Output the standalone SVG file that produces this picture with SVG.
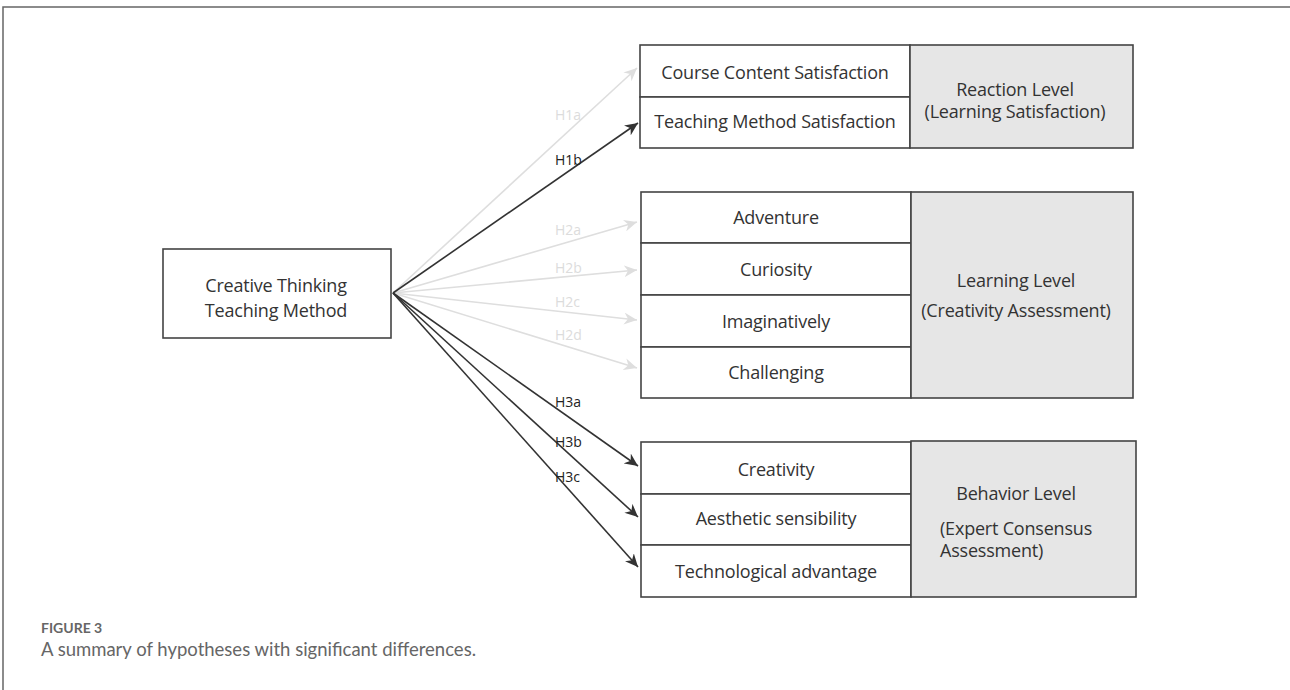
<svg xmlns="http://www.w3.org/2000/svg" width="1290" height="690" viewBox="0 0 1290 690">
<defs>
<style>
.box{fill:#fff;stroke:#444;stroke-width:1.6}
.lvl{fill:#e6e6e6;stroke:#444;stroke-width:1.6}
.t{font-family:"Open Sans","Noto Sans",sans-serif;font-size:18px;fill:#333;text-anchor:middle;letter-spacing:-0.2px}
.tl{font-family:"Open Sans","Noto Sans",sans-serif;font-size:18px;fill:#333;letter-spacing:-0.2px}
.dark{stroke:#333;stroke-width:1.6;fill:none}
.light{stroke:#dedede;stroke-width:1.6;fill:none}
.ld{font-family:"Open Sans","Noto Sans",sans-serif;font-size:14px;fill:#222}
.ll{font-family:"Open Sans","Noto Sans",sans-serif;font-size:14px;fill:#dcdcdc}
.cap1{font-family:"Lato","Open Sans",sans-serif;font-size:14px;fill:#666;font-weight:bold}
.cap2{font-family:"Lato","Open Sans",sans-serif;font-size:18.5px;fill:#666}
</style>
<marker id="ad" markerUnits="userSpaceOnUse" markerWidth="14" markerHeight="12" viewBox="0 0 14 12" refX="13" refY="6" orient="auto"><path d="M0,0 L13,6 L0,12 L4,6 z" fill="#333"/></marker>
<marker id="al" markerUnits="userSpaceOnUse" markerWidth="14" markerHeight="12" viewBox="0 0 14 12" refX="13" refY="6" orient="auto"><path d="M0,0 L13,6 L0,12 L4,6 z" fill="#dedede"/></marker>
</defs>
<g id="frame"><path d="M3,690 L3,7 L1290,7" fill="none" stroke="#666" stroke-width="1.5"/></g>

<g id="source">
<rect class="box" x="163" y="249" width="228" height="89"/>
<text class="t" x="276" y="292">Creative Thinking</text>
<text class="t" x="276" y="317">Teaching Method</text>
</g>

<g id="reaction">
<rect class="box" x="640" y="45" width="270" height="52"/>
<rect class="box" x="640" y="97" width="270" height="51"/>
<rect class="lvl" x="910" y="45" width="223" height="103"/>
<text class="t" x="775" y="79">Course Content Satisfaction</text>
<text class="t" x="775" y="128">Teaching Method Satisfaction</text>
<text class="t" x="1015" y="96">Reaction Level</text>
<text class="t" x="1015" y="118">(Learning Satisfaction)</text>
</g>

<g id="learning">
<rect class="box" x="641" y="192" width="270" height="51"/>
<rect class="box" x="641" y="243" width="270" height="52"/>
<rect class="box" x="641" y="295" width="270" height="52"/>
<rect class="box" x="641" y="347" width="270" height="51"/>
<rect class="lvl" x="911" y="192" width="222" height="206"/>
<text class="t" x="776" y="224">Adventure</text>
<text class="t" x="776" y="276">Curiosity</text>
<text class="t" x="776" y="328">Imaginatively</text>
<text class="t" x="776" y="379">Challenging</text>
<text class="t" x="1016" y="287">Learning Level</text>
<text class="t" x="1016" y="317">(Creativity Assessment)</text>
</g>

<g id="behavior">
<rect class="box" x="641" y="442" width="270" height="52"/>
<rect class="box" x="641" y="494" width="270" height="51"/>
<rect class="box" x="641" y="545" width="270" height="52"/>
<rect class="lvl" x="911" y="441" width="225" height="156"/>
<text class="t" x="776" y="476">Creativity</text>
<text class="t" x="776" y="525">Aesthetic sensibility</text>
<text class="t" x="776" y="578">Technological advantage</text>
<text class="t" x="1016" y="500">Behavior Level</text>
<text class="tl" x="940" y="535">(Expert Consensus</text>
<text class="tl" x="940" y="557">Assessment)</text>
</g>

<g id="connectors">
<path class="light" d="M393,293 L637,68" marker-end="url(#al)"/>
<path class="light" d="M393,293 L637,222" marker-end="url(#al)"/>
<path class="light" d="M393,293 L637,270" marker-end="url(#al)"/>
<path class="light" d="M393,293 L637,320" marker-end="url(#al)"/>
<path class="light" d="M393,293 L637,368" marker-end="url(#al)"/>
<path class="dark" d="M393,293 L638,123" marker-end="url(#ad)"/>
<path class="dark" d="M393,293 L638,466" marker-end="url(#ad)"/>
<path class="dark" d="M393,293 L638,517" marker-end="url(#ad)"/>
<path class="dark" d="M393,293 L638,567" marker-end="url(#ad)"/>
<text class="ll" x="555" y="120">H1a</text>
<text class="ld" x="555" y="165">H1b</text>
<text class="ll" x="555" y="235">H2a</text>
<text class="ll" x="555" y="273">H2b</text>
<text class="ll" x="555" y="307">H2c</text>
<text class="ll" x="555" y="340">H2d</text>
<text class="ld" x="555" y="407">H3a</text>
<text class="ld" x="555" y="447">H3b</text>
<text class="ld" x="555" y="482">H3c</text>
</g>

<g id="caption">
<text class="cap1" x="41" y="633">FIGURE 3</text>
<text class="cap2" x="41" y="656">A summary of hypotheses with significant differences.</text>
</g>
</svg>
